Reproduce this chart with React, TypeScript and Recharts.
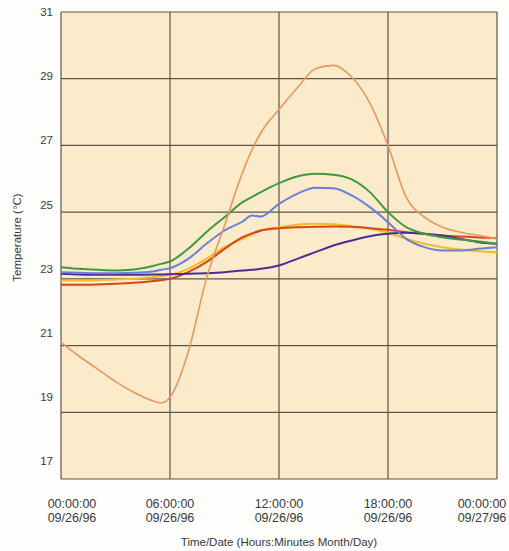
import React from 'react';
import { LineChart, Line, XAxis, YAxis, CartesianGrid, Label } from 'recharts';

// hours since 00:00 09/26/96
const hours = [0, 1, 2, 3, 4, 5, 5.5, 6, 7, 8, 9, 10, 10.5, 11, 12, 13, 14, 15, 16, 17, 18, 19, 20, 21, 22, 23, 24];

const orange = [21.1, 20.68, 20.3, 19.92, 19.6, 19.35, 19.28, 19.45, 20.8, 23.0, 24.6, 26.2, 26.85, 27.38, 28.08, 28.72, 29.3, 29.4, 29.05, 28.27, 27.0, 25.45, 24.85, 24.55, 24.4, 24.3, 24.2];
const green = [23.35, 23.3, 23.27, 23.25, 23.28, 23.38, 23.45, 23.52, 23.9, 24.4, 24.85, 25.3, 25.45, 25.6, 25.87, 26.07, 26.15, 26.12, 25.98, 25.6, 25.0, 24.55, 24.35, 24.25, 24.18, 24.12, 24.05];
const blue = [23.2, 23.18, 23.17, 23.17, 23.18, 23.22, 23.27, 23.32, 23.6, 24.05, 24.45, 24.72, 24.9, 24.87, 25.25, 25.55, 25.73, 25.72, 25.5, 25.15, 24.7, 24.2, 23.95, 23.85, 23.85, 23.9, 23.95];
const yellow = [22.95, 22.95, 22.96, 22.98, 23.0, 23.05, 23.08, 23.12, 23.3, 23.6, 23.95, 24.2, 24.33, 24.45, 24.55, 24.62, 24.65, 24.64, 24.58, 24.5, 24.38, 24.2, 24.05, 23.95, 23.88, 23.83, 23.8];
const red = [22.82, 22.82, 22.83, 22.85, 22.88, 22.93, 22.96, 23.0, 23.2, 23.5, 23.9, 24.25, 24.36, 24.45, 24.52, 24.55, 24.56, 24.57, 24.56, 24.52, 24.47, 24.4, 24.35, 24.3, 24.27, 24.24, 24.22];
const purple = [23.15, 23.13, 23.12, 23.12, 23.12, 23.13, 23.13, 23.14, 23.15, 23.17, 23.2, 23.25, 23.27, 23.3, 23.4, 23.6, 23.8, 24.0, 24.15, 24.28, 24.35, 24.38, 24.35, 24.3, 24.2, 24.1, 24.05];

const xTicks = [0, 6, 12, 18, 24];
const timeLabels = ['00:00:00', '06:00:00', '12:00:00', '18:00:00', '00:00:00'];
const dateLabels = ['09/26/96', '09/26/96', '09/26/96', '09/26/96', '09/27/96'];
const yTicks = [17, 19, 21, 23, 25, 27, 29, 31];

const data = hours.map((h, i) => ({
  h,
  orange: orange[i],
  green: green[i],
  blue: blue[i],
  yellow: yellow[i],
  red: red[i],
  purple: purple[i],
}));

const FONT = '"Liberation Sans", Arial, Helvetica, sans-serif';
const TEXT = '#3a3a3a';

const XTick = (props: any) => {
  const { x, y, payload } = props;
  const i = xTicks.indexOf(payload.value);
  const dx = i === 0 ? 11 : i === xTicks.length - 1 ? -15 : 0;
  return (
    <text x={x + dx} y={y} textAnchor="middle" fill={TEXT} fontSize={12.5} fontFamily={FONT}>
      <tspan x={x + dx} dy={21}>{timeLabels[i]}</tspan>
      <tspan x={x + dx} dy={14}>{dateLabels[i]}</tspan>
    </text>
  );
};

const YTick = (props: any) => {
  const { x, y, payload } = props;
  // labels in the scan sit slightly tighter than the grid
  const ty = 12 + (y - 12) * 0.962;
  return (
    <text x={x} y={ty} dy={4} textAnchor="end" fill={TEXT} fontSize={11.5} fontFamily={FONT}>
      {payload.value}
    </text>
  );
};

const YTitle = (props: any) => {
  const { viewBox } = props;
  const cx = viewBox.x + 21;
  const cy = viewBox.y + viewBox.height / 2 - 8;
  return (
    <text x={cx} y={cy} transform={`rotate(-90, ${cx}, ${cy})`} textAnchor="middle" fill={TEXT} fontSize={11.5} fontFamily={FONT}>
      Temperature (°C)
    </text>
  );
};

export default function App() {
  return (
    <div style={{ position: 'absolute', left: 0, top: 0, width: 509, height: 551, background: '#fdfdfb' }}>
      <LineChart width={509} height={551} data={data} margin={{ top: 12, right: 12, left: 0, bottom: 0 }}>
        <CartesianGrid fill="#fcebcb" stroke="#5c5548" strokeWidth={1.2} horizontalValues={yTicks} verticalValues={xTicks} />
        <XAxis
          dataKey="h"
          type="number"
          domain={[0, 24]}
          ticks={xTicks}
          axisLine={false}
          tickLine={false}
          height={72}
          tick={<XTick />}
          interval={0}
        >
          <Label value="Time/Date (Hours:Minutes Month/Day)" position="insideBottom" offset={5} fill={TEXT} fontSize={11.5} fontFamily={FONT} />
        </XAxis>
        <YAxis
          type="number"
          domain={[17, 31]}
          ticks={yTicks}
          axisLine={false}
          tickLine={false}
          width={61}
          tick={<YTick />}
          interval={0}
          label={<YTitle />}
        />
        <Line type="monotone" dataKey="yellow" stroke="#f0c020" strokeWidth={2} dot={false} isAnimationActive={false} />
        <Line type="monotone" dataKey="red" stroke="#d9441c" strokeWidth={2} dot={false} isAnimationActive={false} />
        <Line type="monotone" dataKey="purple" stroke="#4a2d98" strokeWidth={2} dot={false} isAnimationActive={false} />
        <Line type="monotone" dataKey="blue" stroke="#6c7fd8" strokeWidth={2} dot={false} isAnimationActive={false} />
        <Line type="monotone" dataKey="green" stroke="#3c9a3c" strokeWidth={2} dot={false} isAnimationActive={false} />
        <Line type="monotone" dataKey="orange" stroke="#e8975e" strokeWidth={1.6} dot={false} isAnimationActive={false} />
      </LineChart>
    </div>
  );
}
